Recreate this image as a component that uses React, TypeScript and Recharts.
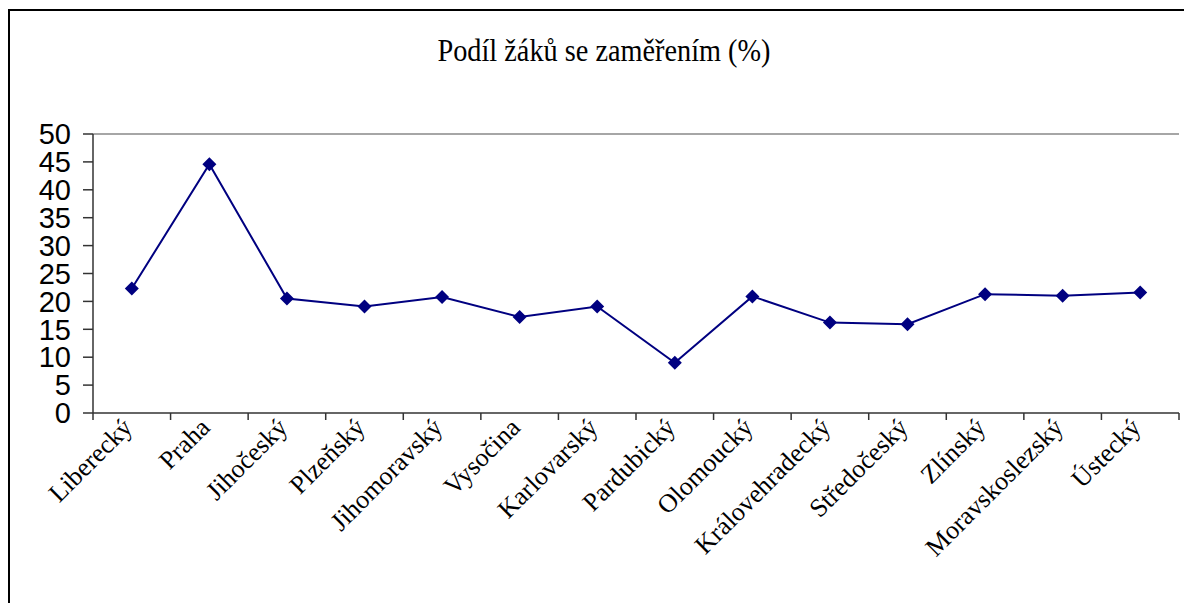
import React from "react";
import { LineChart, Line, XAxis, YAxis, ReferenceLine } from "recharts";

const REGIONS = [
  "Liberecký",
  "Praha",
  "Jihočeský",
  "Plzeňský",
  "Jihomoravský",
  "Vysočina",
  "Karlovarský",
  "Pardubický",
  "Olomoucký",
  "Královehradecký",
  "Středočeský",
  "Zlínský",
  "Moravskoslezský",
  "Ústecký",
];

const SHARE = [22.3, 44.6, 20.5, 19.1, 20.8, 17.2, 19.1, 9.0, 20.9, 16.2, 15.9, 21.3, 21.0, 21.6];

const Y_TICKS = [0, 5, 10, 15, 20, 25, 30, 35, 40, 45, 50];

const TITLE = "Podíl žáků se zaměřením (%)";

const NAVY = "#000080";
const SERIF = "'Liberation Serif', 'Times New Roman', serif";
const SANS = "'Liberation Sans', Arial, sans-serif";

const chartData = REGIONS.map((name, i) => ({ x: i + 0.5, name, v: SHARE[i] }));

// boundaries get a tick mark, centres get the label
const xTicks = REGIONS.flatMap((_, i) => [i, i + 0.5]).concat([REGIONS.length]);

function XTick(props: any) {
  const { x, y, payload } = props;
  const val = payload.value as number;
  if (Number.isInteger(val)) {
    return <line x1={x} y1={y} x2={x} y2={y + 7} stroke="#333" strokeWidth={1.5} />;
  }
  const label = REGIONS[Math.floor(val)];
  return (
    <text
      transform={`translate(${x + 2},${y + 16}) rotate(-45)`}
      textAnchor="end"
      fontFamily={SERIF}
      fontSize={26}
      fill="#000"
    >
      {label}
    </text>
  );
}

function Diamond(props: any) {
  const { cx, cy, index } = props;
  const r = 7;
  return (
    <path
      key={`d-${index}`}
      d={`M${cx},${cy - r} L${cx + r},${cy} L${cx},${cy + r} L${cx - r},${cy} Z`}
      fill={NAVY}
    />
  );
}

export default function App() {
  return (
    <div
      style={{
        position: "absolute",
        left: 8,
        top: 9,
        width: 1176,
        height: 594,
        borderTop: "2px solid #000",
        borderLeft: "2px solid #000",
        boxSizing: "border-box",
        overflow: "hidden",
        background: "#fff",
      }}
    >
      <svg
        width={1174}
        height={80}
        style={{ position: "absolute", left: 0, top: 0 }}
      >
        <text
          x={594}
          y={50}
          textAnchor="middle"
          fontFamily={SERIF}
          fontSize={31}
          textLength={333}
          lengthAdjust="spacingAndGlyphs"
          fill="#000"
        >
          {TITLE}
        </text>
      </svg>
      <LineChart
        width={1174}
        height={592}
        data={chartData}
        margin={{ top: 123, right: 5, left: 0, bottom: 0 }}
      >
        <XAxis
          type="number"
          dataKey="x"
          domain={[0, REGIONS.length]}
          ticks={xTicks}
          interval={0}
          height={190}
          tickSize={0}
          tickMargin={0}
          tickLine={false}
          axisLine={{ stroke: "#333", strokeWidth: 1.5 }}
          tick={<XTick />}
        />
        <YAxis
          type="number"
          domain={[0, 50]}
          ticks={Y_TICKS}
          interval={0}
          width={83}
          tickSize={10}
          tickMargin={12}
          axisLine={{ stroke: "#333", strokeWidth: 1.5 }}
          tickLine={{ stroke: "#333", strokeWidth: 1.5 }}
          tick={{ fill: "#000", fontSize: 29, fontFamily: SANS }}
        />
        <YAxis
          yAxisId="frame"
          orientation="right"
          type="number"
          domain={[0, 50]}
          width={0}
          tick={false}
          tickLine={false}
          axisLine={{ stroke: "#999", strokeWidth: 2 }}
        />
        <ReferenceLine y={50} stroke="#888" strokeWidth={1.5} />
        <Line
          type="linear"
          dataKey="v"
          stroke={NAVY}
          strokeWidth={2}
          dot={<Diamond />}
          activeDot={false}
          isAnimationActive={false}
        />
      </LineChart>
    </div>
  );
}
